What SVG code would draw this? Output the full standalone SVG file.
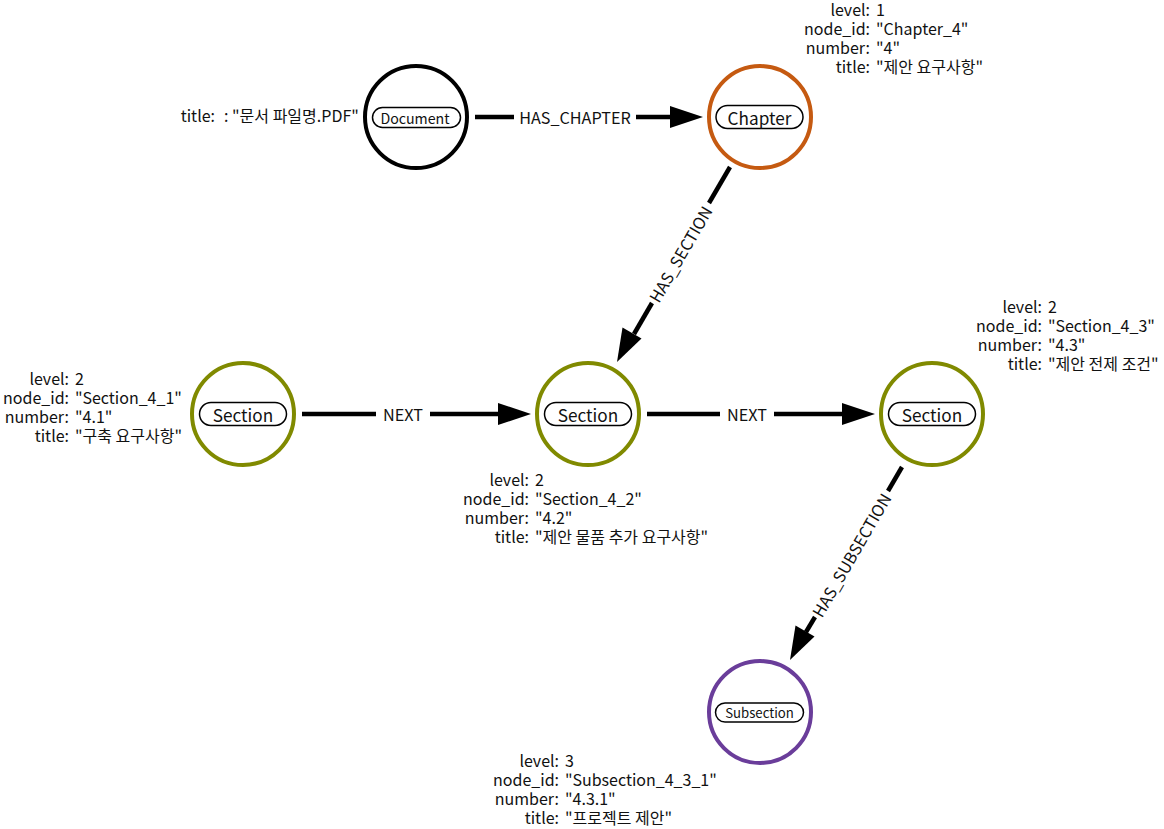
<svg xmlns="http://www.w3.org/2000/svg" width="1164" height="829" viewBox="0 0 1164 829">
<style>
text{font-family:"Noto Sans CJK KR","Noto Sans",sans-serif;fill:#111;}
.prop{font-size:16px;}
.k{text-anchor:end;}
.elabel{font-size:16.2px;text-anchor:middle;dominant-baseline:central;}
.ring{fill:#fff;stroke-width:4;}
.pill{fill:#fff;stroke:#000;stroke-width:1.5;}
.cap{text-anchor:middle;dominant-baseline:central;}
.edge{stroke:#000;stroke-width:4.5;fill:none;}
.head{fill:#000;}
</style>
<rect width="1164" height="829" fill="#fff"/>
<g id="connectors">
  <!-- HAS_CHAPTER -->
  <line class="edge" x1="475" y1="117" x2="514" y2="117"/>
  <line class="edge" x1="636" y1="117" x2="675" y2="117"/>
  <polygon class="head" points="703,117 670,106 670,128"/>
  <text class="elabel" x="575" y="117">HAS_CHAPTER</text>
  <!-- HAS_SECTION -->
  <line class="edge" x1="730" y1="167" x2="709" y2="203"/>
  <line class="edge" x1="652" y1="303" x2="634" y2="334"/>
  <polygon class="head" points="617,362 622.5,327.6 641.5,338.6"/>
  <text class="elabel" transform="translate(680,254) rotate(-59.9)">HAS_SECTION</text>
  <!-- NEXT 1 -->
  <line class="edge" x1="302" y1="414" x2="376" y2="414"/>
  <line class="edge" x1="430" y1="414" x2="503" y2="414"/>
  <polygon class="head" points="531,414 498,403 498,425"/>
  <text class="elabel" x="403" y="414">NEXT</text>
  <!-- NEXT 2 -->
  <line class="edge" x1="647" y1="414" x2="720" y2="414"/>
  <line class="edge" x1="774" y1="414" x2="847" y2="414"/>
  <polygon class="head" points="875,414 842,403 842,425"/>
  <text class="elabel" x="747" y="414">NEXT</text>
  <!-- HAS_SUBSECTION -->
  <line class="edge" x1="902" y1="467" x2="888" y2="491"/>
  <line class="edge" x1="815" y1="617" x2="806" y2="632"/>
  <polygon class="head" points="790,660 795.5,625.6 814.5,636.6"/>
  <text class="elabel" transform="translate(851,555) rotate(-59.9)">HAS_SUBSECTION</text>
</g>
<g id="node-document">
  <circle class="ring" cx="416" cy="117" r="51" stroke="#000"/>
  <rect class="pill" x="372.5" y="107.5" width="88" height="20" rx="10"/>
  <text class="cap" x="415" y="117.5" font-size="14.2">Document</text>
  <text class="prop k" x="215" y="122">title:</text>
  <text class="prop" x="224" y="122">: "문서 파일명.PDF"</text>
</g>
<g id="node-chapter">
  <circle class="ring" cx="760" cy="117" r="51" stroke="#c55a11"/>
  <rect class="pill" x="716" y="105.5" width="87" height="23" rx="11.5"/>
  <text class="cap" x="759.5" y="117" font-size="17.2">Chapter</text>
  <g class="prop">
    <text class="k" x="870" y="16">level:</text><text x="876" y="16">1</text>
    <text class="k" x="870" y="35">node_id:</text><text x="876" y="35">"Chapter_4"</text>
    <text class="k" x="870" y="54">number:</text><text x="876" y="54">"4"</text>
    <text class="k" x="870" y="73">title:</text><text x="876" y="73">"제안 요구사항"</text>
  </g>
</g>
<g id="node-section-4-1">
  <circle class="ring" cx="243" cy="414" r="51" stroke="#808a00"/>
  <rect class="pill" x="199.5" y="402.5" width="87" height="23" rx="11.5"/>
  <text class="cap" x="243" y="414" font-size="17.2">Section</text>
  <g class="prop">
    <text class="k" x="69" y="385">level:</text><text x="75" y="385">2</text>
    <text class="k" x="69" y="404">node_id:</text><text x="75" y="404">"Section_4_1"</text>
    <text class="k" x="69" y="423">number:</text><text x="75" y="423">"4.1"</text>
    <text class="k" x="69" y="442">title:</text><text x="75" y="442">"구축 요구사항"</text>
  </g>
</g>
<g id="node-section-4-2">
  <circle class="ring" cx="588" cy="414" r="51" stroke="#808a00"/>
  <rect class="pill" x="544.5" y="402.5" width="87" height="23" rx="11.5"/>
  <text class="cap" x="588" y="414" font-size="17.2">Section</text>
  <g class="prop">
    <text class="k" x="529" y="486">level:</text><text x="535" y="486">2</text>
    <text class="k" x="529" y="505">node_id:</text><text x="535" y="505">"Section_4_2"</text>
    <text class="k" x="529" y="524">number:</text><text x="535" y="524">"4.2"</text>
    <text class="k" x="529" y="543">title:</text><text x="535" y="543">"제안 물품 추가 요구사항"</text>
  </g>
</g>
<g id="node-section-4-3">
  <circle class="ring" cx="932" cy="414" r="51" stroke="#808a00"/>
  <rect class="pill" x="888.5" y="402.5" width="87" height="23" rx="11.5"/>
  <text class="cap" x="932" y="414" font-size="17.2">Section</text>
  <g class="prop">
    <text class="k" x="1042" y="313">level:</text><text x="1048" y="313">2</text>
    <text class="k" x="1042" y="332">node_id:</text><text x="1048" y="332">"Section_4_3"</text>
    <text class="k" x="1042" y="351">number:</text><text x="1048" y="351">"4.3"</text>
    <text class="k" x="1042" y="370">title:</text><text x="1048" y="370">"제안 전제 조건"</text>
  </g>
</g>
<g id="node-subsection-4-3-1">
  <circle class="ring" cx="760" cy="712" r="51" stroke="#6a3d9a"/>
  <rect class="pill" x="715.5" y="703" width="88" height="19" rx="9.5"/>
  <text class="cap" x="759.5" y="712.5" font-size="13.2">Subsection</text>
  <g class="prop">
    <text class="k" x="559" y="767">level:</text><text x="565" y="767">3</text>
    <text class="k" x="559" y="786">node_id:</text><text x="565" y="786">"Subsection_4_3_1"</text>
    <text class="k" x="559" y="805">number:</text><text x="565" y="805">"4.3.1"</text>
    <text class="k" x="559" y="824">title:</text><text x="565" y="824">"프로젝트 제안"</text>
  </g>
</g>
</svg>
